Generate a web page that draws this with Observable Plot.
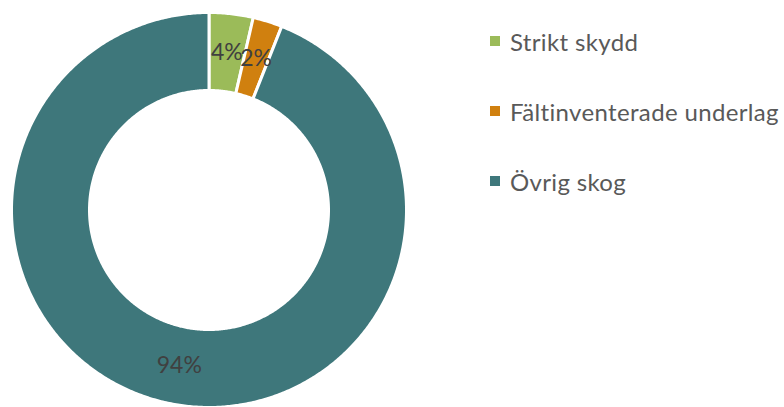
<!DOCTYPE html>
<html>
<head>
<meta charset="utf-8">
<script src="https://cdn.jsdelivr.net/npm/d3@7"></script>
<script src="https://cdn.jsdelivr.net/npm/@observablehq/plot@0.6"></script>
<style>
  html, body { margin: 0; padding: 0; background: #fff; }
  #wrap { position: relative; width: 784px; height: 407px; overflow: hidden; font-family: Lato, "Open Sans", sans-serif; }
  #legend { position: absolute; left: 490px; top: 24px; }
  .item { display: flex; align-items: center; height: 34px; margin-bottom: 36px; font-size: 24px; letter-spacing: 0.35px; color: #595959; white-space: nowrap; }
  .sw { width: 10px; height: 10px; margin-right: 10px; flex: none; }
</style>
</head>
<body>
<div id="wrap"><div id="chart"></div><div id="legend"></div></div>
<script>
const categories = ["Strikt skydd", "Fältinventerade underlag", "Övrig skog"];
const values = [3.6, 2.4, 94.0];
const colors = ["#9BBB59", "#D0800F", "#3E777B"];

const R = 1, r = 119.5 / 197.5;
const total = d3.sum(values);
const pie = d3.pie().sort(null).value(d => d.value)(categories.map((c, i) => ({cat: c, value: values[i]})));

// polygon outlines of each ring slice, sampled from the arc angles
const poly = [];
pie.forEach(s => {
  const n = Math.max(4, Math.ceil((s.endAngle - s.startAngle) / (Math.PI / 360)));
  for (let k = 0; k <= n; k++) {
    const a = s.startAngle + (s.endAngle - s.startAngle) * k / n;
    poly.push({cat: s.data.cat, x: R * Math.sin(a), y: R * Math.cos(a)});
  }
  for (let k = n; k >= 0; k--) {
    const a = s.startAngle + (s.endAngle - s.startAngle) * k / n;
    poly.push({cat: s.data.cat, x: r * Math.sin(a), y: r * Math.cos(a)});
  }
});
const labels = pie.map(s => {
  const a = (s.startAngle + s.endAngle) / 2, m = (R + r) / 2;
  return {cat: s.data.cat, x: m * Math.sin(a), y: m * Math.cos(a), text: Math.round(s.data.value / total * 100) + "%"};
});

const chart = Plot.plot({
  width: 784,
  height: 407,
  margin: 0,
  style: {fontFamily: "Lato, 'Open Sans', sans-serif", background: "transparent"},
  x: {domain: [-1, 1], range: [11, 406], axis: null},
  y: {domain: [-1, 1], range: [407, 12], axis: null},
  color: {domain: categories, range: colors},
  marks: [
    Plot.line(poly, {x: "x", y: "y", z: "cat", fill: "cat", stroke: "white", strokeWidth: 3, curve: "linear-closed"}),
    Plot.text(labels, {x: "x", y: "y", text: "text", fill: "#404040", fontSize: 23})
  ]
});
document.getElementById("chart").appendChild(chart);

const leg = document.getElementById("legend");
categories.forEach((c, i) => {
  const it = document.createElement("div");
  it.className = "item";
  it.innerHTML = `<span class="sw" style="background:${colors[i]}"></span><span>${c}</span>`;
  leg.appendChild(it);
});
</script>
</body>
</html>
